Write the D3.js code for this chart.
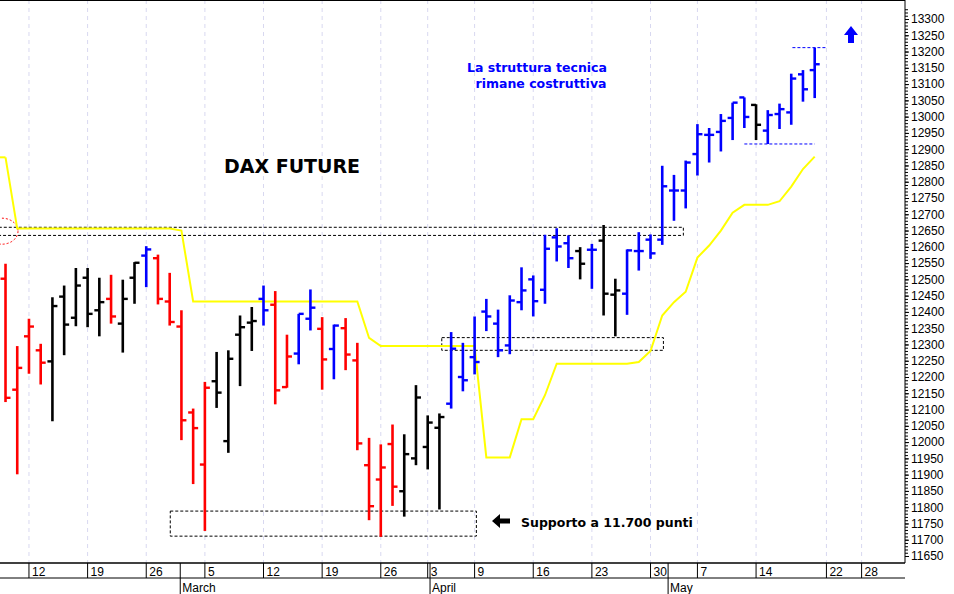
<!DOCTYPE html>
<html><head><meta charset="utf-8">
<script src="https://cdn.jsdelivr.net/npm/d3@7"></script>
<style>body{margin:0;background:#fff}svg{display:block}</style>
</head><body>
<svg id="c" width="954" height="594"></svg>
<script>
// trading days (index -2 = Feb 8 ... 67 = May 22)
const dates = ["02-08","02-09","02-12","02-13","02-14","02-15","02-16","02-19","02-20","02-21","02-22","02-23","02-26","02-27","02-28","03-01","03-02","03-05","03-06","03-07","03-08","03-09","03-12","03-13","03-14","03-15","03-16","03-19","03-20","03-21","03-22","03-23","03-26","03-27","03-28","03-29","04-03","04-04","04-05","04-06","04-09","04-10","04-11","04-12","04-13","04-16","04-17","04-18","04-19","04-20","04-23","04-24","04-25","04-26","04-27","04-30","05-02","05-03","05-04","05-07","05-08","05-09","05-10","05-11","05-14","05-15","05-16","05-17","05-18","05-21","05-22"];
const opens  = [12502,12161,12325,12282,12248,12447,12382,12505,12405,12440,12364,12505,12573,12565,12432,12355,12091,11931,12187,12003,12330,12367,12440,12422,12169,12272,12379,12348,12286,12350,12251,11929,11885,11994,11849,11950,11985,12044,12118,12200,12261,12401,12364,12297,12430,12500,12468,12629,12611,12587,12591,12619,12453,12456,12587,12622,12622,12773,12773,12885,12944,12953,12996,13059,13036,12957,13008,13013,13130,13143];
const highs  = [12548,12295,12379,12302,12445,12481,12535,12535,12505,12514,12499,12553,12602,12576,12520,12405,12103,12185,12277,12282,12389,12415,12481,12464,12330,12394,12469,12384,12361,12381,12305,12013,11993,12054,12024,12175,12082,12088,12338,12305,12386,12440,12407,12451,12537,12512,12637,12657,12635,12599,12609,12667,12502,12592,12645,12638,12849,12821,12865,12977,12965,13008,13043,13059,13038,13020,13040,13132,13143,13212];
const lows   = [12123,11901,12210,12177,12064,12267,12356,12353,12325,12364,12275,12425,12476,12423,12358,12006,11871,11727,12105,11967,12172,12280,12358,12116,12167,12239,12343,12161,12193,12221,11975,11760,11709,11804,11771,11929,11916,11793,12103,12156,12208,12341,12261,12270,12405,12386,12425,12555,12535,12500,12471,12389,12325,12391,12527,12563,12606,12680,12718,12819,12859,12893,12928,12965,12928,12916,12962,12975,13046,13057];
const closes = [12136,12228,12355,12244,12418,12361,12481,12394,12430,12386,12440,12551,12592,12440,12369,12067,12043,12167,12152,12256,12353,12372,12405,12159,12263,12394,12413,12254,12358,12269,11996,11803,11922,11863,11963,12137,12060,12077,12287,12190,12246,12386,12282,12435,12466,12433,12594,12601,12565,12548,12591,12456,12466,12589,12587,12580,12786,12773,12859,12946,12944,12987,13043,12999,12975,13005,13023,13117,13084,13161];
const barColors = ["red","red","red","red","black","black","black","black","black","red","black","black","blue","red","red","red","red","red","black","black","black","black","blue","red","red","blue","blue","red","blue","red","red","red","red","red","black","black","black","black","blue","blue","blue","blue","blue","blue","blue","blue","blue","blue","blue","black","blue","black","black","blue","blue","blue","blue","blue","blue","blue","blue","blue","blue","blue","black","blue","blue","blue","blue","blue"];
const baseline = [12875,12656,12656,12656,12656,12656,12656,12656,12656,12656,12656,12656,12656,12656,12656,12650,12432,12432,12432,12432,12432,12432,12432,12432,12432,12432,12432,12432,12432,12432,12432,12320,12295,12295,12295,12295,12295,12295,12295,12295,12295,11953,11953,11953,12070,12070,12144,12241,12241,12241,12241,12241,12241,12241,12246,12280,12389,12430,12462,12567,12604,12650,12705,12729,12729,12729,12740,12785,12839,12877];
const yTicks = d3.range(11650, 13301, 50);
const weekTicks = [{d:"02-12",l:"12"},{d:"02-19",l:"19"},{d:"02-26",l:"26"},{d:"03-05",l:"5"},{d:"03-12",l:"12"},{d:"03-19",l:"19"},{d:"03-26",l:"26"},{d:"04-03",l:"3"},{d:"04-09",l:"9"},{d:"04-16",l:"16"},{d:"04-23",l:"23"},{d:"04-30",l:"30"},{d:"05-07",l:"7"},{d:"05-14",l:"14"},{d:"05-22",l:"22"},{i:71,l:"28"}];
const months = [{i:12.9,l:"March"},{i:34.2,l:"April"},{i:54.5,l:"May"}];
const firstIdx = -2;

const svg = d3.select("#c");
const R = 905, B = 563;
const x = d3.scaleLinear().domain([-2.47, 74.7]).range([0, R]);
const y = d3.scaleLinear().domain([11650, 13300]).range([556, 19]);
const xi = k => x(k + firstIdx);
const idxOf = d => dates.indexOf(d) + firstIdx;

weekTicks.forEach(t => {
  const i = t.d ? idxOf(t.d) : t.i;
  svg.append("line").attr("x1", x(i)).attr("x2", x(i)).attr("y1", 0).attr("y2", B)
    .attr("stroke", "#d8d8f0").attr("stroke-dasharray", "4,4");
});

const box = (i0, i1, v0, v1, col) => svg.append("rect")
  .attr("x", x(i0)).attr("y", y(v1)).attr("width", x(i1) - x(i0)).attr("height", y(v0) - y(v1))
  .attr("fill", "none").attr("stroke", col || "#000").attr("stroke-dasharray", "3,2");
box(-3, 55.8, 12635, 12660);
box(35.2, 54.1, 12282, 12321);
box(12.05, 38.15, 11711, 11788);
const hd = (i0, i1, v, col) => svg.append("line").attr("x1", x(i0)).attr("x2", x(i1))
  .attr("y1", y(v)).attr("y2", y(v)).attr("stroke", col).attr("stroke-dasharray", "3,2");
hd(65.1, 68, 13212, "blue");
hd(61, 67, 12916, "blue");
svg.append("ellipse").attr("cx", x(-2.3)).attr("cy", y(12648)).attr("rx", 16).attr("ry", 13)
  .attr("fill", "none").attr("stroke", "red").attr("stroke-dasharray", "2,2");

svg.append("path").datum(baseline)
  .attr("d", d3.line().x((d, k) => xi(k)).y(d => y(d)))
  .attr("fill", "none").attr("stroke", "#ffff00").attr("stroke-width", 2);
svg.append("line").attr("x1", 0).attr("x2", xi(0)).attr("y1", y(12875)).attr("y2", y(12875))
  .attr("stroke", "#ffff00").attr("stroke-width", 2);

const g = svg.append("g");
dates.forEach((d, k) => {
  const cx = xi(k), c = barColors[k];
  g.append("line").attr("x1", cx).attr("x2", cx).attr("y1", y(highs[k])).attr("y2", y(lows[k]))
    .attr("stroke", c).attr("stroke-width", 2.6);
  g.append("line").attr("x1", cx - 5).attr("x2", cx).attr("y1", y(opens[k])).attr("y2", y(opens[k]))
    .attr("stroke", c).attr("stroke-width", 2.4);
  g.append("line").attr("x1", cx).attr("x2", cx + 5).attr("y1", y(closes[k])).attr("y2", y(closes[k]))
    .attr("stroke", c).attr("stroke-width", 2.4);
});

svg.append("line").attr("x1", R).attr("x2", R).attr("y1", 0).attr("y2", B).attr("stroke", "#000");
svg.append("line").attr("x1", 0).attr("x2", R).attr("y1", 0.5).attr("y2", 0.5).attr("stroke", "#000");
const yAx = svg.append("g").attr("transform", `translate(${R},0)`)
  .call(d3.axisRight(y).tickValues(yTicks).tickSize(4).tickFormat(d3.format("d")));
yAx.select(".domain").remove();
yAx.selectAll("text").attr("font-family", "Liberation Sans, Arial").attr("font-size", 12).attr("x", 6);
svg.append("g").attr("transform", `translate(${R},0)`)
  .call(d3.axisRight(y).tickValues(d3.range(11650, 13331, 10)).tickSize(3).tickFormat(""))
  .select(".domain").remove();

svg.append("line").attr("x1", 0).attr("x2", R).attr("y1", B).attr("y2", B).attr("stroke", "#000").attr("stroke-width", 1.5);
svg.append("line").attr("x1", 0).attr("x2", R).attr("y1", 578).attr("y2", 578).attr("stroke", "#000");
weekTicks.forEach(t => {
  const i = t.d ? idxOf(t.d) : t.i;
  svg.append("line").attr("x1", x(i)).attr("x2", x(i)).attr("y1", B).attr("y2", 578).attr("stroke", "#000");
  svg.append("text").attr("x", x(i) + 3).attr("y", 576).text(t.l)
    .attr("font-family", "Liberation Sans Narrow, Liberation Sans, Arial").attr("font-size", 12);
});
months.forEach(m => {
  svg.append("line").attr("x1", x(m.i)).attr("x2", x(m.i)).attr("y1", B).attr("y2", 594).attr("stroke", "#000");
  svg.append("text").attr("x", x(m.i) + 2).attr("y", 592).text(m.l)
    .attr("font-family", "Liberation Sans Narrow, Liberation Sans, Arial").attr("font-size", 12);
});

const bold = "DejaVu Sans, Verdana";
svg.append("text").attr("x", 292).attr("y", 173).attr("text-anchor", "middle").text("DAX FUTURE")
  .attr("font-family", bold).attr("font-weight", "bold").attr("font-size", 19);
svg.append("text").attr("x", 537).attr("y", 72).attr("text-anchor", "middle").text("La struttura tecnica")
  .attr("fill", "blue").attr("font-family", bold).attr("font-weight", "bold").attr("font-size", 12.5);
svg.append("text").attr("x", 541).attr("y", 88).attr("text-anchor", "middle").text("rimane costruttiva")
  .attr("fill", "blue").attr("font-family", bold).attr("font-weight", "bold").attr("font-size", 12.5);
svg.append("text").attr("x", 521).attr("y", 527).text("Supporto a 11.700 punti")
  .attr("font-family", bold).attr("font-weight", "bold").attr("font-size", 12.5);
svg.append("path").attr("d", "M492,521 L500,514 L500,518.5 L510,518.5 L510,523.5 L500,523.5 L500,528 Z").attr("fill", "#000");
svg.append("path").attr("d", "M851,26 L858,35 L854,35 L854,43 L848,43 L848,35 L844,35 Z").attr("fill", "blue");
</script>
</body></html>
